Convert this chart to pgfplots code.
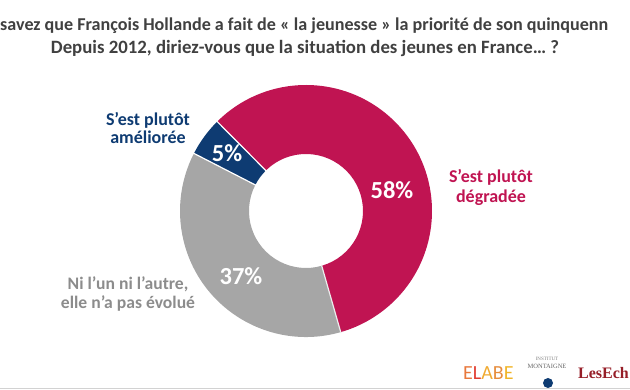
\documentclass[border=0pt]{standalone}
\usepackage{pgfplots}
\pgfplotsset{compat=1.18}
\usepackage{fontspec}
\setmainfont{Carlito}
\newfontfamily\serifb{Liberation Serif}
\definecolor{crim}{RGB}{192,20,82}
\definecolor{navy}{RGB}{14,59,114}
\definecolor{gry}{RGB}{166,166,166}
\definecolor{lbl}{RGB}{140,140,140}
\definecolor{ttl}{RGB}{64,64,64}
\begin{document}
\begin{tikzpicture}
\useasboundingbox (0,0) rectangle (630pt,390pt);
% values (percent): améliorée, dégradée, ni l'un ni l'autre
\def\va{5}\def\vb{58}\def\vc{37}
\pgfmathsetmacro\aS{152.8}
\pgfmathsetmacro\aA{\aS-3.6*\va}
\pgfmathsetmacro\aB{\aA-3.6*\vb}
\pgfmathsetmacro\aC{\aB-3.6*\vc}
\begin{axis}[x=1pt,y=1pt,xmin=0,xmax=630,ymin=0,ymax=390,hide axis,clip=false,
  at={(0,0)},anchor=origin]
\coordinate (C) at (axis cs:306,179);
\fill[navy] ([shift={(\aS:126pt)}]C) arc[start angle=\aS,end angle=\aA,radius=126pt]
  -- ([shift={(\aA:57pt)}]C) arc[start angle=\aA,end angle=\aS,radius=57pt] -- cycle;
\fill[crim] ([shift={(\aA:126pt)}]C) arc[start angle=\aA,end angle=\aB,radius=126pt]
  -- ([shift={(\aB:57pt)}]C) arc[start angle=\aB,end angle=\aA,radius=57pt] -- cycle;
\fill[gry] ([shift={(\aB:126pt)}]C) arc[start angle=\aB,end angle=\aC,radius=126pt]
  -- ([shift={(\aC:57pt)}]C) arc[start angle=\aC,end angle=\aB,radius=57pt] -- cycle;
\draw[white,line width=1.2pt] ([shift={(\aS:56pt)}]C) -- ([shift={(\aS:127pt)}]C);
\draw[white,line width=1.2pt] ([shift={(\aA:56pt)}]C) -- ([shift={(\aA:127pt)}]C);
\draw[white!85!gray,line width=1.2pt] ([shift={(\aB:56pt)}]C) -- ([shift={(\aB:127pt)}]C);
% percentages
\node[white,font=\bfseries\fontsize{24.5}{26}\selectfont] at (axis cs:227,237) {\va\%};
\node[white,font=\bfseries\fontsize{24.5}{26}\selectfont] at (axis cs:392,200) {\vb\%};
\node[white,font=\bfseries\fontsize{24.5}{26}\selectfont] at (axis cs:241,114) {\vc\%};
% category labels
\node[navy,align=center,font=\bfseries\fontsize{18}{18}\selectfont] at (axis cs:148,261.5) {S'est plutôt\\améliorée};
\node[crim,align=center,font=\bfseries\fontsize{18}{20}\selectfont] at (axis cs:491,203) {S'est plutôt\\dégradée};
\node[lbl,align=center,font=\bfseries\fontsize{17.6}{18.5}\selectfont] at (axis cs:128,96) {Ni l'un ni l'autre,\\elle n'a pas évolué};
% title
\node[ttl,anchor=west,inner sep=0pt,font=\bfseries\fontsize{18.1}{20}\selectfont] at (axis cs:0,364) {savez que François Hollande a fait de « la jeunesse » la priorité de son quinquenn};
\node[ttl,inner sep=0pt,font=\bfseries\fontsize{18.8}{20}\selectfont] at (axis cs:305,342) {Depuis 2012, diriez-vous que la situation des jeunes en France… ?};
% logos
\node[anchor=west,inner sep=0pt,font=\fontsize{20}{20}\selectfont] at (axis cs:463,17) {\textcolor[RGB]{232,120,60}{E}\textcolor[RGB]{225,60,50}{L}\textcolor[RGB]{240,170,50}{A}\textcolor[RGB]{230,140,60}{B}\textcolor[RGB]{240,180,40}{E}};
\node[gray,inner sep=0pt,font=\serifb\fontsize{5}{5}\selectfont] at (axis cs:547,31) {INSTITUT};
\node[gray!80!black,inner sep=0pt,font=\serifb\fontsize{6.5}{6.5}\selectfont] at (axis cs:547,24) {MONTAIGNE};
\fill[navy] (axis cs:548,7) circle[radius=5pt];
\node[anchor=east,inner sep=0pt,text={rgb,255:red,150;green,30;blue,40},font=\serifb\bfseries\fontsize{16}{16}\selectfont] at (axis cs:629,17) {LesEch};
\draw[gray!35,line width=1.5pt] (axis cs:0,1.5) -- (axis cs:630,1.5);
\end{axis}
\end{tikzpicture}
\end{document}
